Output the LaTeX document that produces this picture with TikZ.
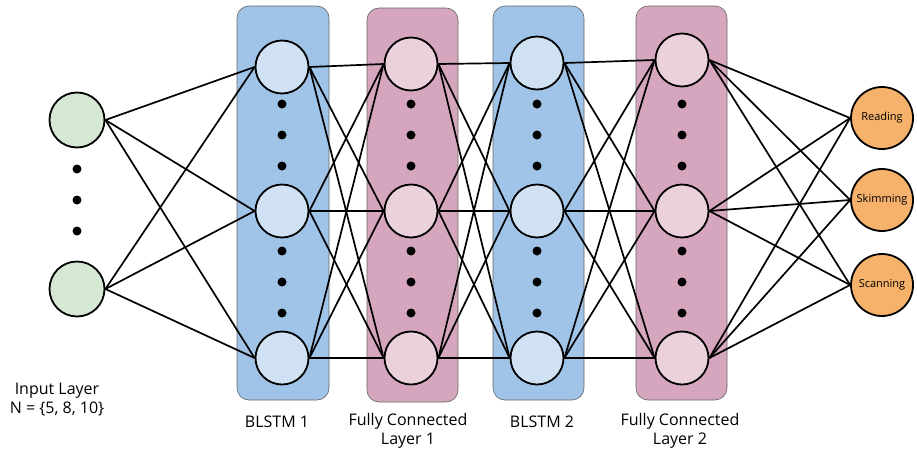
\documentclass[tikz,border=0pt]{standalone}
\usepackage{fontspec}
\setmainfont{Open Sans}
\usetikzlibrary{backgrounds}
\definecolor{blstmbox}{RGB}{160,196,232}
\definecolor{blstmnode}{RGB}{207,225,242}
\definecolor{fcbox}{RGB}{213,166,189}
\definecolor{fcnode}{RGB}{234,209,220}
\definecolor{infill}{RGB}{213,232,212}
\definecolor{outfill}{RGB}{246,178,107}

\begin{document}
\begin{tikzpicture}[x=1pt,y=-1pt,
  neuron/.style={circle,draw,line width=1.8pt,minimum size=53pt,inner sep=0pt},
  layerbox/.style={draw=black!60,rounded corners=12pt,line width=0.6pt},
  dot/.style={circle,fill,inner sep=0pt,minimum size=9pt},
  edge/.style={line width=1.7pt},
  lbl/.style={font=\fontsize{16}{19}\selectfont,align=center}]
\useasboundingbox (0,0) rectangle (917,453);
% input layer
\node[neuron,fill=infill,minimum size=55pt] (i1) at (77,120) {};
\node[neuron,fill=infill,minimum size=55pt] (i2) at (77,289) {};
\foreach \y in {169,200,231} \node[dot] at (77,\y) {};
% hidden layers
\foreach \l/\x/\c/\t in {1/282/blstmnode/67, 2/411/fcnode/64, 3/537/blstmnode/63, 4/682/fcnode/60} {
  \node[neuron,fill=\c] (h\l-1) at (\x,\t) {};
  \node[neuron,fill=\c] (h\l-2) at (\x,211) {};
  \node[neuron,fill=\c] (h\l-3) at (\x,358) {};
  \foreach \y in {104,135,166,251,282,313} \node[dot] at (\x,\y) {};
}
% output layer
\node[neuron,fill=outfill,minimum size=62pt,font=\fontsize{11}{13}\selectfont] (o1) at (882,118) {Reading};
\node[neuron,fill=outfill,minimum size=62pt,font=\fontsize{11}{13}\selectfont] (o2) at (882,200) {Skimming};
\node[neuron,fill=outfill,minimum size=62pt,font=\fontsize{11}{13}\selectfont] (o3) at (882,285) {Scanning};
\begin{scope}[on background layer]
\draw[layerbox,fill=blstmbox] (237,6) rectangle (329,400);
\draw[layerbox,fill=fcbox] (367,8) rectangle (458,402);
\draw[layerbox,fill=blstmbox] (493,6) rectangle (584,400);
\draw[layerbox,fill=fcbox] (636,6) rectangle (727,400);
\foreach \a in {1,2} \foreach \b in {1,2,3} \draw[edge] (i\a.east) -- (h1-\b.west);
\foreach \l [evaluate=\l as \k using int(\l+1)] in {1,2,3}
  \foreach \a in {1,2,3} \foreach \b in {1,2,3} \draw[edge] (h\l-\a.east) -- (h\k-\b.west);
\foreach \a in {1,2,3} \foreach \b in {1,2,3} \draw[edge] (h4-\a.east) -- (o\b.west);
\end{scope}
% labels
\node[lbl] (inlbl) at (57,400) {Input Layer\\N = \{5, 8, 10\}};
\node[lbl] (b1lbl) at (277,422) {BLSTM 1};
\node[lbl] (f1lbl) at (408,431) {Fully Connected\\Layer 1};
\node[lbl] (b2lbl) at (542,422) {BLSTM 2};
\node[lbl] (f2lbl) at (680,431) {Fully Connected\\Layer 2};
\end{tikzpicture}
\end{document}
